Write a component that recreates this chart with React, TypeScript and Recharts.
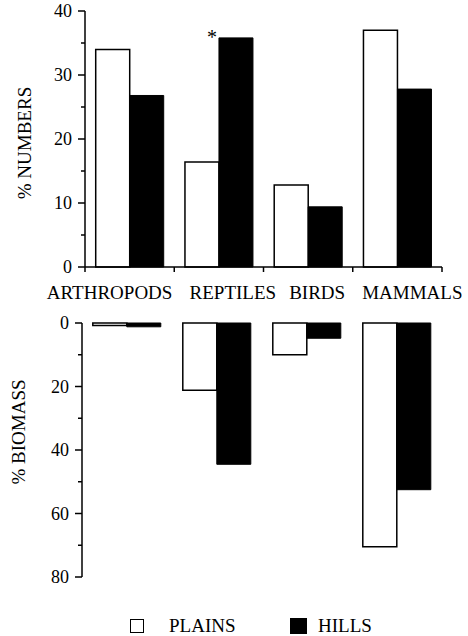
import { BarChart, Bar, XAxis, YAxis, Legend, LabelList } from "recharts";

const CATEGORIES = ["ARTHROPODS", "REPTILES", "BIRDS", "MAMMALS"];
const SERIES_NAMES = ["PLAINS", "HILLS"];
const NUMBERS_PLAINS = [34, 16.4, 12.8, 37];
const NUMBERS_HILLS = [26.8, 35.8, 9.4, 27.8];
const NUMBERS_MARKS = ["", "*", "", ""];
const BIOMASS_PLAINS = [0.8, 21.2, 10, 70.5];
const BIOMASS_HILLS = [1.2, 44.5, 4.8, 52.5];
const NUMBERS_TICKS = [0, 5, 10, 15, 20, 25, 30, 35, 40];
const BIOMASS_TICKS = [0, 10, 20, 30, 40, 50, 60, 70, 80];

const numbersData = CATEGORIES.map((c, i) => ({
  category: c,
  plains: NUMBERS_PLAINS[i],
  hills: NUMBERS_HILLS[i],
  mark: NUMBERS_MARKS[i],
}));

const biomassData = CATEGORIES.map((c, i) => ({
  category: c,
  plains: BIOMASS_PLAINS[i],
  hills: BIOMASS_HILLS[i],
}));

const FONT = "Liberation Serif, DejaVu Serif, serif";
const INK = "#000";

// shift of each category name, the printed labels are not centred on their groups
const LABEL_DX = [-20, 14, 9, 15];

function YTick(props: any) {
  const { x, y, payload, majorStep } = props;
  const major = payload.value % majorStep === 0;
  return (
    <g>
      <line x1={x - (major ? 7 : 4)} x2={x} y1={y} y2={y} stroke={INK} strokeWidth={1.5} />
      {major && (
        <text x={x - 13} y={y} dy="0.35em" textAnchor="end" style={{ fontFamily: FONT }} fontSize={18} fill={INK}>
          {payload.value}
        </text>
      )}
    </g>
  );
}

function CategoryTick(props: any) {
  const { x, y, payload, index, visibleTicksCount } = props;
  const half = payload.offset || 44.6;
  const last = index === (visibleTicksCount ?? CATEGORIES.length) - 1;
  return (
    <g>
      <line x1={x - half} x2={x - half} y1={y} y2={y + 5} stroke={INK} strokeWidth={1.5} />
      {last && <line x1={x + half} x2={x + half} y1={y} y2={y + 5} stroke={INK} strokeWidth={1.5} />}
      <text x={x + (LABEL_DX[index] ?? 0)} y={y + 32} textAnchor="middle" style={{ fontFamily: FONT }} fontSize={19} fill={INK}>
        {payload.value}
      </text>
    </g>
  );
}

function TopBoundaryTick(props: any) {
  const { x, y, payload, index, visibleTicksCount } = props;
  const half = payload.offset || 45;
  const last = index === (visibleTicksCount ?? CATEGORIES.length) - 1;
  return (
    <g>
      <line x1={x - half} x2={x - half} y1={y} y2={y - 5} stroke={INK} strokeWidth={1.5} />
      {last && <line x1={x + half} x2={x + half} y1={y} y2={y - 5} stroke={INK} strokeWidth={1.5} />}
    </g>
  );
}

const yLabel = (text: string, cx: number, dy: number) => (props: any) => {
  const vb = props.viewBox || { x: 0, y: 0, width: 0, height: 0 };
  const px = vb.x + cx;
  const py = vb.y + vb.height / 2 + dy;
  return (
    <text
      x={px}
      y={py}
      transform={`rotate(-90, ${px}, ${py})`}
      textAnchor="middle"
      dominantBaseline="central"
      style={{ fontFamily: FONT }}
      fontSize={19}
      fill={INK}
    >
      {text}
    </text>
  );
};

const renderMark = (props: any) => {
  const { x, y, value } = props;
  if (!value) return null;
  return (
    <text x={x - 7} y={y + 6} textAnchor="middle" style={{ fontFamily: FONT }} fontSize={20} fill={INK}>
      {value}
    </text>
  );
};

const renderLegend = (props: any) => {
  const items = [...(props.payload || [])].sort(
    (a: any, b: any) => SERIES_NAMES.indexOf(a.value) - SERIES_NAMES.indexOf(b.value)
  );
  const left = [130, 290];
  const gap = [25, 11];
  return (
    <div style={{ position: "relative", width: 468, height: 22, fontFamily: FONT }}>
      {items.map((item: any, i: number) => (
        <div
          key={item.value}
          style={{ position: "absolute", left: left[i], top: 0, display: "flex", alignItems: "center", height: 22 }}
        >
          <span
            style={{
              display: "inline-block",
              width: i === 0 ? 12 : 15,
              height: i === 0 ? 12 : 14,
              border: `1.5px solid ${INK}`,
              background: item.color,
            }}
          />
          <span style={{ marginLeft: gap[i], fontSize: 19, color: INK, lineHeight: "22px" }}>{item.value}</span>
        </div>
      ))}
    </div>
  );
};

export default function App() {
  return (
    <div style={{ position: "absolute", left: 0, top: 0, width: 468, height: 636, background: "#fff" }}>
      <div style={{ position: "absolute", left: 0, top: 0 }}>
        <BarChart
          width={468}
          height={312}
          data={numbersData}
          margin={{ top: 11, right: 26, bottom: 0, left: 0 }}
          barCategoryGap="12%"
          barGap={0}
        >
          <XAxis
            dataKey="category"
            interval={0}
            height={45}
            tickSize={0}
            tickMargin={0}
            tickLine={false}
            axisLine={{ stroke: INK, strokeWidth: 1.5 }}
            tick={<CategoryTick />}
          />
          <YAxis
            width={85}
            domain={[0, 40]}
            ticks={NUMBERS_TICKS}
            interval={0}
            tickSize={0}
            tickMargin={0}
            tickLine={false}
            axisLine={{ stroke: INK, strokeWidth: 1.5 }}
            tick={(p: any) => <YTick {...p} majorStep={10} />}
            label={yLabel("% NUMBERS", 24, 4)}
          />
          <Bar dataKey="plains" name={SERIES_NAMES[0]} fill="#fff" stroke={INK} strokeWidth={1.5} isAnimationActive={false} />
          <Bar dataKey="hills" name={SERIES_NAMES[1]} fill={INK} stroke={INK} strokeWidth={1} isAnimationActive={false}>
            <LabelList dataKey="mark" content={renderMark} />
          </Bar>
        </BarChart>
      </div>
      <div style={{ position: "absolute", left: 0, top: 300 }}>
        <BarChart
          width={468}
          height={336}
          data={biomassData}
          margin={{ top: 23, right: 26, bottom: 59, left: 0 }}
          barCategoryGap="12%"
          barGap={0}
        >
          <XAxis
            dataKey="category"
            orientation="top"
            interval={0}
            height={0}
            tickSize={0}
            tickMargin={0}
            tickLine={false}
            axisLine={{ stroke: INK, strokeWidth: 1.5 }}
            tick={<TopBoundaryTick />}
          />
          <YAxis
            width={82}
            reversed
            domain={[0, 80]}
            ticks={BIOMASS_TICKS}
            interval={0}
            tickSize={0}
            tickMargin={0}
            tickLine={false}
            axisLine={{ stroke: INK, strokeWidth: 1.5 }}
            tick={(p: any) => <YTick {...p} majorStep={20} />}
            label={yLabel("% BIOMASS", 18, -18)}
          />
          <Legend
            verticalAlign="middle"
            content={renderLegend}
            wrapperStyle={{ position: "absolute", left: 0, top: 315, width: 468, height: 22 }}
          />
          <Bar dataKey="plains" name={SERIES_NAMES[0]} fill="#fff" stroke={INK} strokeWidth={1.5} isAnimationActive={false} />
          <Bar dataKey="hills" name={SERIES_NAMES[1]} fill={INK} stroke={INK} strokeWidth={1} isAnimationActive={false} />
        </BarChart>
      </div>
    </div>
  );
}
